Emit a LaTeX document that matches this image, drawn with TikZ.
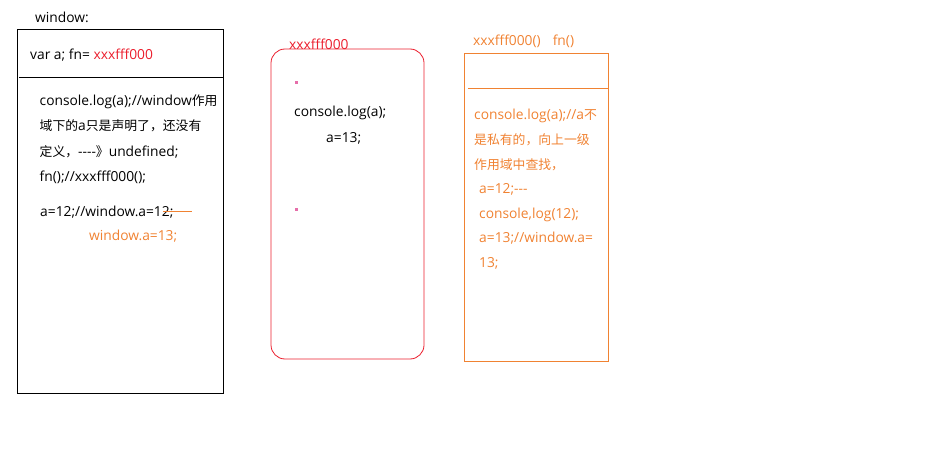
\documentclass[tikz,border=0pt]{standalone}
\usepackage{fontspec}
\setmainfont{Open Sans}[Ligatures=TeXOff]
\newfontfamily\zh{Noto Sans CJK SC}[Scale=0.93]
\definecolor{addrred}{RGB}{235,30,45}
\definecolor{scopeorange}{RGB}{240,130,50}
\definecolor{dotpink}{RGB}{230,110,170}
\tikzset{
  code/.style={anchor=base west, inner sep=0pt, font=\fontsize{13.8}{16}\selectfont},
}

\begin{document}
\begin{tikzpicture}[x=1pt,y=-1pt]
    \useasboundingbox (0,0) rectangle (927,460);
    % window scope
    \draw[line width=1pt] (17,30) rectangle (223,393);
    \draw[line width=0.8pt] (19,77) -- (223,77);
    \node[code] (winlabel) at (35,23) {window:};
    \node[code] (windecl) at (30,59.5) {var a; fn= \textcolor{addrred}{xxxfff000}};
    \node[code] (winlinea) at (39.5,106) {console.log(a);//window{\zh 作用}};
    \node[code] (winlineb) at (39.5,131) {{\zh 域下的}a{\zh 只是声明了，还没有}};
    \node[code] (winlinec) at (39.5,156) {{\zh 定义，}----{\zh 》}undefined;};
    \node[code] (winlined) at (39.5,181) {fn();//xxxfff000();};
    \node[code] (winassign) at (40,216) {a=12;//window.a=12;};
    \draw[scopeorange, line width=0.8pt] (163,211) -- (192,211);
    \node[code, scopeorange] (winnew) at (89,240) {window.a=13;};
    % heap object xxxfff000
    \draw[addrred, line width=0.8pt, rounded corners=14pt] (271,49) rectangle (424,359);
    \node[code, addrred] (heaplabel) at (289,49.5) {xxxfff000};
    \fill[dotpink] (295,81) rectangle (298,84);
    \fill[dotpink] (295,208) rectangle (298,211);
    \node[code] (heapline) at (294,116.5) {console.log(a);};
    \node[code] (heapassign) at (326,142.5) {a=13;};
    % fn() scope
    \draw[scopeorange, line width=0.8pt] (464,53) rectangle (608,361);
    \draw[scopeorange, line width=0.8pt] (468,88) -- (608,88);
    \node[code, scopeorange] (fnlabel) at (473,45.5) {xxxfff000()\hspace{12pt}fn()};
    \node[code, scopeorange] (fnlinea) at (474,119.5) {console.log(a);//a{\zh 不}};
    \node[code, scopeorange] (fnlineb) at (474,144.5) {{\zh 是私有的，向上一级}};
    \node[code, scopeorange] (fnlinec) at (474,169.5) {{\zh 作用域中查找，}};
    \node[code, scopeorange] (fnlined) at (479,193.5) {a=12;---};
    \node[code, scopeorange] (fnlinee) at (479,218.5) {console,log(12);};
    \node[code, scopeorange] (fnlinef) at (479,242.5) {a=13;//window.a=};
    \node[code, scopeorange] (fnlineg) at (479,267.5) {13;};
\end{tikzpicture}
\end{document}
